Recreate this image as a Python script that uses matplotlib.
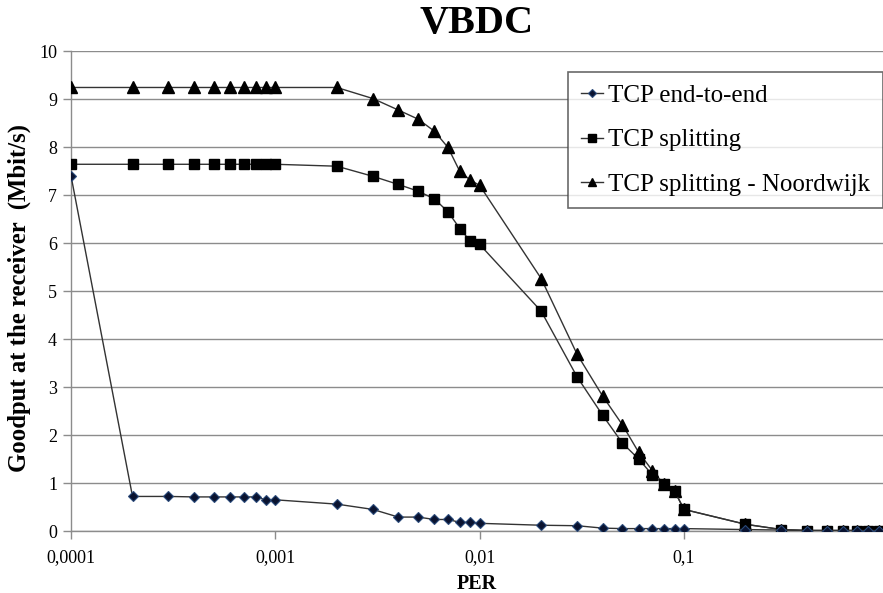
import matplotlib
matplotlib.use("Agg")
import matplotlib.pyplot as plt
from matplotlib.ticker import FixedLocator, NullLocator, FixedFormatter

per = [0.0001, 0.0002, 0.0003, 0.0004, 0.0005, 0.0006, 0.0007, 0.0008, 0.0009,
       0.001, 0.002, 0.003, 0.004, 0.005, 0.006, 0.007, 0.008, 0.009,
       0.01, 0.02, 0.03, 0.04, 0.05, 0.06, 0.07, 0.08, 0.09,
       0.1, 0.2, 0.3, 0.4, 0.5, 0.6, 0.7, 0.8, 0.9]

tcp_e2e = [7.40, 0.72, 0.72, 0.71, 0.71, 0.71, 0.71, 0.71, 0.65,
           0.65, 0.56, 0.45, 0.29, 0.29, 0.24, 0.24, 0.18, 0.18,
           0.16, 0.12, 0.11, 0.06, 0.05, 0.05, 0.05, 0.05, 0.05,
           0.05, 0.03, 0.02, 0.01, 0.01, 0.01, 0.01, 0.01, 0.01]

tcp_split = [7.64, 7.64, 7.64, 7.64, 7.64, 7.64, 7.64, 7.64, 7.64,
             7.64, 7.60, 7.39, 7.22, 7.08, 6.92, 6.65, 6.30, 6.04,
             5.97, 4.58, 3.21, 2.41, 1.83, 1.50, 1.17, 0.97, 0.83,
             0.45, 0.14, 0.03, 0.01, 0.01, 0.01, 0.01, 0.01, 0.01]

tcp_noord = [9.24, 9.24, 9.24, 9.24, 9.24, 9.24, 9.24, 9.24, 9.24,
             9.24, 9.24, 9.01, 8.77, 8.58, 8.33, 7.99, 7.49, 7.31,
             7.20, 5.26, 3.68, 2.81, 2.21, 1.64, 1.26, 0.97, 0.83,
             0.45, 0.14, 0.03, 0.01, 0.01, 0.01, 0.01, 0.01, 0.01]

xticks = [0.0001, 0.001, 0.01, 0.1]
xtick_labels = ["0,0001", "0,001", "0,01", "0,1"]
yticks = list(range(0, 11))

serif = ["Liberation Serif", "DejaVu Serif"]
plt.rcParams["font.family"] = serif

fig = plt.figure(figsize=(8.83, 5.93), dpi=100)
ax = fig.add_axes([71 / 883, 1 - 531 / 593, 1 - 71 / 883, (531 - 51) / 593])

ax.set_xscale("log")
ax.set_xlim(1e-4, 10 ** (-1 + (883 - 684) / 204.3))
ax.set_ylim(0, 10)

grid_c = "#8c8c8c"
ax.set_yticks(yticks)
ax.yaxis.grid(True, color=grid_c, linewidth=1.0)
ax.set_axisbelow(True)
ax.xaxis.set_major_locator(FixedLocator(xticks))
ax.xaxis.set_major_formatter(FixedFormatter(xtick_labels))
ax.xaxis.set_minor_locator(NullLocator())

for s in ["top", "right"]:
    ax.spines[s].set_visible(False)
for s in ["left", "bottom"]:
    ax.spines[s].set_color(grid_c)
    ax.spines[s].set_linewidth(1.0)
ax.tick_params(axis="both", colors=grid_c, length=6, width=1.0, labelcolor="black",
               labelsize=13)
ax.tick_params(axis="x", pad=7)
ax.tick_params(axis="y", pad=4)

line_c = "#333333"
ax.plot(per, tcp_e2e, color=line_c, linewidth=1.0, marker="D", markersize=5,
        markerfacecolor="#0a1330", markeredgecolor="#2a4a7a", markeredgewidth=0.8,
        label="TCP end-to-end", zorder=5)
ax.plot(per, tcp_split, color=line_c, linewidth=1.0, marker="s", markersize=7.5,
        markerfacecolor="black", markeredgecolor="black",
        label="TCP splitting", zorder=4)
ax.plot(per, tcp_noord, color=line_c, linewidth=1.0, marker="^", markersize=8,
        markerfacecolor="black", markeredgecolor="black",
        label="TCP splitting - Noordwijk", zorder=3)

leg = ax.legend(loc="upper left", bbox_to_anchor=((568 - 71) / 812, 1 - (72 - 51) / 480),
                fontsize=18, frameon=True, fancybox=False, handlelength=0.9,
                handletextpad=0.2, borderpad=0.5, labelspacing=0.87, markerscale=0.8,
                borderaxespad=0)
leg.get_frame().set_edgecolor("#444444")
leg.get_frame().set_linewidth(1.2)

fig.text(477 / 883, 1 - 24 / 593, "VBDC", ha="center", va="center",
         fontsize=29, fontweight="bold")
ax.set_xlabel("PER", fontsize=14.5, fontweight="bold", labelpad=6)
fig.text(19 / 883, 1 - 298 / 593, "Goodput at the receiver  (Mbit/s)", rotation=90,
         ha="center", va="center", fontsize=17.8, fontweight="bold")

fig.savefig("out.png", dpi=100)
